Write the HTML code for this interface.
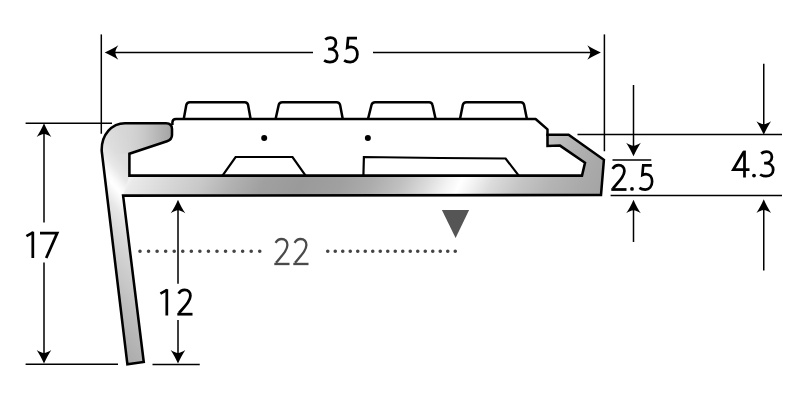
<!DOCTYPE html>
<html>
<head>
<meta charset="utf-8">
<style>
html,body{margin:0;padding:0;background:#fff;}
body{width:800px;height:400px;overflow:hidden;}
svg{display:block;filter:blur(0.35px);}
text{font-family:"Liberation Sans",sans-serif;}
</style>
</head>
<body>
<svg width="800" height="400" viewBox="0 0 800 400">
<defs>
  <linearGradient id="gPlate" gradientUnits="userSpaceOnUse" x1="100" y1="0" x2="606" y2="0" gradientTransform="matrix(1 0 -0.5 1 92.8 0)">
    <stop offset="0.0000" stop-color="#e8e8e8"/>
    <stop offset="0.0356" stop-color="#ffffff"/>
    <stop offset="0.0593" stop-color="#eaeaea"/>
    <stop offset="0.1383" stop-color="#d6d6d6"/>
    <stop offset="0.1976" stop-color="#c8c8c8"/>
    <stop offset="0.2569" stop-color="#b2b2b2"/>
    <stop offset="0.3202" stop-color="#a0a0a0"/>
    <stop offset="0.3953" stop-color="#9a9a9a"/>
    <stop offset="0.4743" stop-color="#a0a0a0"/>
    <stop offset="0.5336" stop-color="#acacac"/>
    <stop offset="0.5929" stop-color="#c0c0c0"/>
    <stop offset="0.6423" stop-color="#dadada"/>
    <stop offset="0.6818" stop-color="#f2f2f2"/>
    <stop offset="0.7095" stop-color="#ffffff"/>
    <stop offset="0.7352" stop-color="#f2f2f2"/>
    <stop offset="0.7708" stop-color="#dcdcdc"/>
    <stop offset="0.8300" stop-color="#c4c4c4"/>
    <stop offset="0.8893" stop-color="#b4b4b4"/>
    <stop offset="0.9486" stop-color="#aaaaaa"/>
    <stop offset="1.0000" stop-color="#a4a4a4"/>
  </linearGradient>
  <linearGradient id="gLeg" gradientUnits="userSpaceOnUse" x1="0" y1="118" x2="0" y2="390" gradientTransform="matrix(1 1.24 0 1 0 -140.1)">
    <stop offset="0.0000" stop-color="#d8d8d8"/>
    <stop offset="0.1176" stop-color="#dedede"/>
    <stop offset="0.1728" stop-color="#e8e8e8"/>
    <stop offset="0.2206" stop-color="#fafafa"/>
    <stop offset="0.2426" stop-color="#ffffff"/>
    <stop offset="0.2721" stop-color="#f6f6f6"/>
    <stop offset="0.3199" stop-color="#e6e6e6"/>
    <stop offset="0.4044" stop-color="#d8d8d8"/>
    <stop offset="0.5294" stop-color="#cacaca"/>
    <stop offset="0.6507" stop-color="#bcbcbc"/>
    <stop offset="0.7978" stop-color="#aeaeae"/>
    <stop offset="0.9191" stop-color="#a6a6a6"/>
    <stop offset="1.0000" stop-color="#a2a2a2"/>
  </linearGradient>
  <linearGradient id="gNose" gradientUnits="userSpaceOnUse" x1="113" y1="0" x2="173" y2="0">
    <stop offset="0" stop-color="#d4d4d4" stop-opacity="0"/>
    <stop offset="0.3" stop-color="#d0d0d0" stop-opacity="0.55"/>
    <stop offset="0.6" stop-color="#c2c2c2" stop-opacity="1"/>
    <stop offset="1" stop-color="#a2a2a2"/>
  </linearGradient>
  <path id="ah" d="M0,-0.3 C2.2,4.8 4.6,9.2 7.3,13.3 C4.6,11.5 2.2,10.5 0,10.3 C-2.2,10.5 -4.6,11.5 -7.3,13.3 C-4.6,9.2 -2.2,4.8 0,-0.3 Z"/>
  <g id="d1"><path d="M-6.4,-21.9 L0.4,-25.6"/><path d="M0,-26.3 V0"/></g>
  <g id="d2"><path d="M1.6,-21.9 C3,-24.3 5.2,-25.7 7.6,-25.7 C11.2,-25.7 13.4,-23.3 13.4,-19.7 C13.4,-15.2 9.8,-11.4 2,-2.4"/><path d="M0.3,-1.3 H15.5"/></g>
  <g id="d3"><path d="M1.7,-23.9 C3.1,-25 5,-25.8 7,-25.8 C10.4,-25.8 12.4,-23.6 12.4,-20.5 C12.4,-17 9.6,-14.5 5.8,-14.3 L4.6,-14.3 L6,-14.3 C10.5,-14.2 13.7,-11.8 13.7,-7.8 C13.7,-3.8 10.6,-1.3 6.5,-1.3 C4.2,-1.3 2,-2 0.6,-3"/></g>
  <g id="d4"><path d="M13.5,0 V-26.9"/><path d="M12.9,-25.8 L2.4,-8 H18.5"/></g>
  <g id="d5"><path d="M13.5,-25.4 H4.6 L3.7,-15.7 C5,-16.3 6.3,-16.6 7.6,-16.6 C11.5,-16.6 13.9,-13.6 13.9,-9.2 C13.9,-4.5 10.9,-1.3 6.8,-1.3 C4.3,-1.3 2,-2 0.6,-3"/></g>
  <g id="d7"><path d="M0,-25 H17.2 L6.2,0"/></g>
</defs>
<rect width="800" height="400" fill="#fff"/>

<!-- aluminium profile fills -->
<g id="profile">
  <!-- plate -->
  <path d="M118,195.6 L601,195 L603.9,160 L568.6,134.7 L547.5,134.7 L547.5,146 L560,145.6 L585,162.8 L582,175.6 L118,175.6 Z" fill="url(#gPlate)"/>
  <!-- wall + leg -->
  <path d="M127.4,364.3 L101.7,151 C101.2,134.5 111.9,123.2 125,123.2 L166,123.2 Q172,123.2 172,129 L172,135 Q172,139.5 167,141.2 L129.4,153.75 L129.4,175.6 L123.1,195.6 L143.75,362 Z" fill="url(#gLeg)"/>
  <!-- nose -->
  <path d="M113,123.2 L166,123.2 Q172,123.2 172,129 L172,135 Q172,139.5 167,141.2 L129.4,153.75 L113,153.75 Z" fill="url(#gNose)"/>
  <!-- outline -->
  <path d="M125,123.2 L166,123.2 Q172,123.2 172,129 L172,135 Q172,139.5 167,141.2 L129.4,153.75 L129.4,175.6 L582,175.6 L585,162.8 L560,145.6 L547.5,146 L547.5,134.7 L568.6,134.7 L603.9,159.8 L601,195 L123.1,195.6 L143.75,362 L127.4,364.3 L101.7,151 C101.2,134.5 111.9,123.2 125,123.2 Z" fill="none" stroke="#000" stroke-width="2.55" stroke-linejoin="miter"/>
</g>

<!-- rubber insert lines -->
<g fill="none" stroke="#000" stroke-width="2.5" stroke-linejoin="round" stroke-linecap="butt">
  <path d="M172.4,125 L172.4,122.5 Q172.4,119 176,119 L535.6,119 L547.5,129.4 L547.5,136"/>
  <path d="M183.75,119 L186.3,105 Q186.9,102.2 189.8,102.2 L244.7,102.2 Q247.6,102.2 248.1,105 L250.6,119"/>
  <path d="M275.6,119 L278.7,105 Q279.3,102.2 282.2,102.2 L336.6,102.2 Q339.5,102.2 340.1,105 L342.75,119"/>
  <path d="M368,119 L371.5,105 Q372.2,102.2 375.1,102.2 L429.1,102.2 Q432,102.2 432.5,105 L435.6,119"/>
  <path d="M460,119 L462.8,105 Q463.4,102.2 466.3,102.2 L520.7,102.2 Q523.6,102.2 524.1,105 L526.9,119"/>
</g>
<g fill="none" stroke="#000" stroke-width="2.2" stroke-linejoin="miter">
  <path d="M222.5,175.6 L235.6,157 L292.5,157 L305.6,175.6"/>
  <path d="M363.4,175.6 L363.9,157 L440,158 L505.6,158.5 L518.75,175.6"/>
</g>
<circle cx="264.2" cy="138" r="3" fill="#000"/>
<circle cx="367.85" cy="138" r="3" fill="#000"/>

<!-- dimension lines -->
<g fill="none" stroke="#000" stroke-width="1.5">
  <path d="M101.3,34.4 V133.75"/>
  <path d="M604.4,34.4 V151.25"/>
  <path d="M112,52.5 H313 M373,52.5 H594"/>
  <path d="M25.6,123.2 H112"/>
  <path d="M25.6,364.2 H118 M152.5,364.4 H199.75"/>
  <path d="M44,130 V222.5 M44,262.5 V357"/>
  <path d="M178,207 V283.75 M178,320 V357"/>
  <path d="M577.5,134.6 H782"/>
  <path d="M610.6,195.5 H782"/>
  <path d="M612.5,160 H651.25"/>
  <path d="M633.5,85 V149 M633.5,207 V242"/>
  <path d="M763.75,63.75 V128 M763.75,207 V270.5"/>
</g>
<!-- arrowheads -->
<g fill="#000">
  <use href="#ah" transform="translate(105,52.5) rotate(-90)"/>
  <use href="#ah" transform="translate(600.6,52.5) rotate(90)"/>
  <use href="#ah" transform="translate(44,123.6)"/>
  <use href="#ah" transform="translate(44,363.3) rotate(180)"/>
  <use href="#ah" transform="translate(178,200)"/>
  <use href="#ah" transform="translate(178,363.3) rotate(180)"/>
  <use href="#ah" transform="translate(633.5,156) rotate(180)"/>
  <use href="#ah" transform="translate(633.5,200)"/>
  <use href="#ah" transform="translate(763.75,134.5) rotate(180)"/>
  <use href="#ah" transform="translate(763.75,199.6)"/>
</g>

<!-- 22 dotted -->
<path d="M140,251.25 H260" stroke="#444" stroke-width="3.6" stroke-linecap="round" stroke-dasharray="0 8.554" fill="none"/>
<path d="M327.75,251.25 H456" stroke="#444" stroke-width="3.6" stroke-linecap="round" stroke-dasharray="0 7.5" fill="none"/>
<path d="M441.9,210 L469.1,210 L455.6,238 Z" fill="#555"/>

<!-- text -->
<g fill="none" stroke="#000" stroke-width="2.75" stroke-linejoin="miter" stroke-miterlimit="6">
  <use href="#d3" x="323.5" y="63.4"/>
  <use href="#d5" x="343.5" y="63.4"/>
  <use href="#d1" x="32.8" y="258"/>
  <use href="#d7" x="40" y="258"/>
  <use href="#d1" x="166.8" y="315.5"/>
  <use href="#d2" x="177" y="315.5"/>
  <use href="#d2" x="611" y="190.8"/>
  <use href="#d5" transform="translate(638.8,190.8) scale(0.96,1)"/>
  <use href="#d4" x="731" y="177.5"/>
  <use href="#d3" x="759.5" y="177.5"/>
</g>
<circle cx="632" cy="188.9" r="1.9" fill="#000"/>
<circle cx="754" cy="175.6" r="1.9" fill="#000"/>
<g fill="none" stroke="#4a4a4a" stroke-width="2.3" stroke-linejoin="miter" stroke-miterlimit="6">
  <use href="#d2" transform="translate(274,265.3) scale(1,1.025)"/>
  <use href="#d2" transform="translate(293,265.3) scale(1,1.025)"/>
</g>
</svg>
</body>
</html>
